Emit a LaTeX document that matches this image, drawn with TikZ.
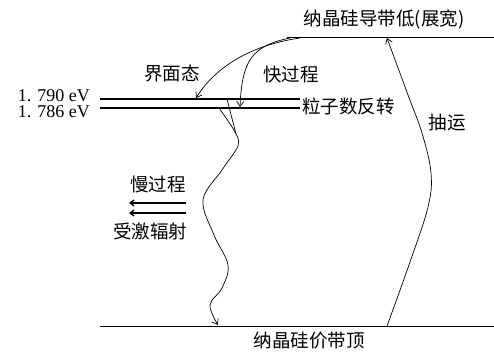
\documentclass[tikz,border=0pt]{standalone}
\usepackage{fontspec}
\setmainfont{Liberation Serif}
\newfontfamily\cjk{Noto Sans CJK SC}
\usetikzlibrary{arrows.meta}
\tikzset{
  lvl/.style={line width=1.1pt},
  band/.style={line width=0.9pt},
  arr/.style={line width=0.7pt,-{Straight Barb[length=5pt,width=7pt]}},
  thickarr/.style={line width=1.3pt,-{Straight Barb[length=4pt,width=6pt]}},
  cj/.style={font=\cjk\fontsize{18.5}{20}\selectfont, inner sep=0pt},
  ev/.style={font=\fontsize{18}{20}\selectfont, inner sep=0pt, text height=12.5pt, text depth=0.5pt}
}
\begin{document}
\begin{tikzpicture}[x=1pt,y=-1pt]
\useasboundingbox (0,0) rectangle (494,352);
% bands
\coordinate (cbL) at (287,37); \coordinate (cbR) at (494,37);
\coordinate (vbL) at (100,326); \coordinate (vbR) at (494,326);
\draw[band] (cbL) -- (cbR);
\draw[band] (vbL) -- (vbR);
% levels
\coordinate (l1L) at (100,99); \coordinate (l1R) at (300,99);
\coordinate (l2L) at (100,108); \coordinate (l2R) at (300,108);
\draw[lvl] (l1L) -- (l1R);
\draw[lvl] (l2L) -- (l2R);
% labels
\node[cj] (cbT) at (384,19) {纳晶硅导带低(展宽)};
\node[cj] (vbT) at (309,341) {纳晶硅价带顶};
\node[ev,anchor=base east] (e1) at (90,102) {1. 790 eV};
\node[ev,anchor=base east] (e2) at (90,117.5) {1. 786 eV};
\node[cj,anchor=west] (inv) at (302,106) {粒子数反转};
\node[cj] (ifs) at (172,73) {界面态};
\node[cj] (fast) at (291,75) {快过程};
\node[cj] (slow) at (158,184) {慢过程};
\node[cj] (stim) at (150,231) {受激辐射};
\node[cj] (pump) at (447,123) {抽运};
% relaxation arrows
\coordinate (s1) at (300,38); \coordinate (t1) at (196,98);
\coordinate (s2) at (290,38); \coordinate (t2) at (240,107);
\draw[arr] (s1) .. controls (252,45) and (216,66) .. (t1);
\draw[arr] (s2) .. controls (252,46) and (242,60) .. (t2);
% pump arrow
\coordinate (p0) at (387,326); \coordinate (p1) at (387,38);
\draw[arr] plot[smooth,tension=0.6] coordinates {(p0) (410,262) (428,207) (431,173) (422,133) (408,95) (p1)};
% wavy emission
\coordinate (w1) at (227,99); \coordinate (w2) at (219,108);
\coordinate (wj) at (236,134); \coordinate (wend) at (218,325);
\draw[line width=0.7pt] (w1) -- (wj);
\draw[line width=0.7pt] (w2) .. controls (226,118) and (232,126) .. (wj);
\draw[arr] plot[smooth,tension=0.6] coordinates {(wj) (238,146) (222,170) (203,200) (214,235) (228,265) (222,288) (210,305) (wend)};
% slow arrows
\coordinate (a1s) at (186,203); \coordinate (a1e) at (129,203);
\coordinate (a2s) at (186,213); \coordinate (a2e) at (129,213);
\draw[thickarr] (a1s) -- (a1e);
\draw[thickarr] (a2s) -- (a2e);
\end{tikzpicture}
\end{document}
